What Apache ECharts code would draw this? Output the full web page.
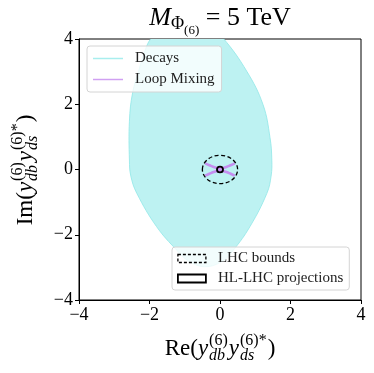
<!DOCTYPE html>
<html lang="en">
<head>
  <meta charset="UTF-8">
  <title>M_Phi = 5 TeV</title>
  <style>
    html, body { margin: 0; padding: 0; background: #fff; }
    #chart { width: 374px; height: 373px; }
  </style>
</head>
<body>
  <div id="chart"></div>
  <script src="https://cdn.jsdelivr.net/npm/echarts@6/dist/echarts.min.js"></script>
  <script>
    // 数据
    // Decays 区域边界点 [Re, Im]
    const decaysBoundary = [
      [-0.93, 4.50], [-0.30, 4.36], [0.085, 4.03], [0.76, 3.01], [1.22, 1.99],
      [1.42, 0.97], [1.47, 0.29], [1.45, -0.20], [1.33, -0.73], [0.85, -1.75],
      [0.38, -2.47], [0.05, -2.82], [-0.43, -2.98], [-0.90, -2.80], [-1.23, -2.47],
      [-1.80, -1.75], [-2.36, -0.73], [-2.53, -0.20], [-2.57, 0.29], [-2.57, 1.48],
      [-2.48, 2.35], [-2.30, 3.05], [-2.08, 3.78], [-1.94, 4.03], [-1.60, 4.32]
    ];
    // Loop Mixing 上下两条曲线
    const loopUpper = [[-0.42, 0.19], [-0.30, 0.13], [-0.18, 0.075], [-0.08, 0.045], [0, 0.035],
                       [0.08, 0.045], [0.18, 0.075], [0.30, 0.13], [0.42, 0.19]];
    const loopLower = [[-0.42, -0.19], [-0.30, -0.13], [-0.18, -0.075], [-0.08, -0.045], [0, -0.035],
                       [0.08, -0.045], [0.18, -0.075], [0.30, -0.13], [0.42, -0.19]];
    // 椭圆: [中心Re, 中心Im, 半轴Re, 半轴Im]
    const lhcBounds = [[0, 0, 0.50, 0.435]];
    const hlProjections = [[0, 0, 0.085, 0.09]];
    const axisMin = -4, axisMax = 4, tickStep = 2;

    const SERIF = '"Liberation Serif", "DejaVu Serif", serif';
    const measureCtx = document.createElement('canvas').getContext('2d');
    function textWidth(str, size, italic) {
      measureCtx.font = (italic ? 'italic ' : '') + size + 'px ' + SERIF;
      return measureCtx.measureText(str).width;
    }
    function txt(s, x, dy, size, italic) {
      return {
        type: 'text', x: x, y: dy,
        style: {
          text: s, fontSize: size, fontFamily: SERIF, fontStyle: italic ? 'italic' : 'normal',
          fill: '#000', align: 'left', verticalAlign: 'bottom'
        }
      };
    }
    // 公式: parts = [{t, it, s, dy, gap}] 或 {stack: [...]}, 以基线为 y=0
    function formula(parts, cx, cy, rotation) {
      let x = 0;
      const children = [];
      parts.forEach(function (p) {
        const items = p.stack || [p];
        let w = 0;
        x += p.gap || 0;
        items.forEach(function (q) {
          children.push(txt(q.t, x, (q.dy || 0) + q.s * 0.22, q.s, q.it));
          w = Math.max(w, textWidth(q.t, q.s, q.it));
        });
        x += w;
      });
      children.forEach(function (c) { c.x -= x / 2; });
      return { type: 'group', x: cx, y: cy, rotation: rotation || 0, children: children };
    }

    const M = 23, S = 16;
    function reimParts(head) {
      return [
        { t: head, s: M },
        { t: 'y', it: true, s: M },
        { gap: 1, stack: [{ t: '(6)', s: S, dy: -10 }, { t: 'db', it: true, s: S, dy: 5 }] },
        { gap: 1, t: 'y', it: true, s: M },
        { gap: 1, stack: [{ t: '(6)*', s: S, dy: -10 }, { t: 'ds', it: true, s: S, dy: 5 }] },
        { gap: 1, t: ')', s: M }
      ];
    }
    const titleParts = [
      { t: 'M', it: true, s: 26 },
      { t: 'Φ', s: 18, dy: 4 },
      { t: '(6)', s: 13, dy: 9 },
      { t: ' = 5 TeV', s: 26 }
    ];

    function minusFmt(v) { return v < 0 ? '\u2212' + (-v) : String(v); }

    function ellipseItem(dash, width) {
      return function (params, api) {
        const c = api.coord([api.value(0), api.value(1)]);
        const r = api.size([api.value(2), api.value(3)]);
        return {
          type: 'ellipse',
          shape: { cx: c[0], cy: c[1], rx: r[0], ry: r[1] },
          style: { fill: 'none', stroke: '#000', lineWidth: width, lineDash: dash }
        };
      };
    }

    const axisCommon = {
      type: 'value', min: axisMin, max: axisMax, interval: tickStep,
      splitLine: { show: false },
      axisLine: { onZero: false, lineStyle: { color: '#000', width: 1 } },
      axisTick: { inside: false, length: 4, lineStyle: { color: '#000' } },
      axisLabel: { color: '#000', fontFamily: SERIF, fontSize: 18, margin: 6, formatter: minusFmt }
    };

    const chart = echarts.init(document.getElementById('chart'));
    const option = {
      animation: false,
      grid: { left: 79, right: 13, top: 39, bottom: 73, show: true, borderColor: '#000', borderWidth: 1 },
      xAxis: axisCommon,
      yAxis: axisCommon,
      legend: [{
        orient: 'vertical', left: 87, top: 46, padding: [5, 7, 5, 6], itemGap: 6,
        icon: 'rect', itemWidth: 30, itemHeight: 1.5, selectedMode: false,
        backgroundColor: 'rgba(255,255,255,0.8)', borderColor: '#d4d4d4', borderWidth: 1, borderRadius: 3,
        textStyle: { fontFamily: SERIF, fontSize: 15, color: '#222', padding: [0, 0, 0, 7] },
        data: [
          { name: 'Decays', itemStyle: { color: '#a8eeee' } },
          { name: 'Loop Mixing', itemStyle: { color: '#d0a0f2' } }
        ]
      }, {
        orient: 'vertical', left: 172, top: 247, padding: [4, 6, 4, 5], itemGap: 5,
        icon: 'rect', itemWidth: 28, itemHeight: 8, selectedMode: false,
        backgroundColor: 'rgba(255,255,255,0.8)', borderColor: '#d4d4d4', borderWidth: 1, borderRadius: 3,
        textStyle: { fontFamily: SERIF, fontSize: 15, color: '#222', padding: [0, 0, 0, 7] },
        data: [
          { name: 'LHC bounds', itemStyle: { color: 'rgba(255,255,255,0)', borderColor: '#000', borderWidth: 1.3, borderType: [3, 2] } },
          { name: 'HL-LHC projections', itemStyle: { color: 'rgba(255,255,255,0)', borderColor: '#000', borderWidth: 1.8 } }
        ]
      }],
      series: [{
        name: 'Decays', type: 'custom', clip: true, z: 1,
        data: [[0, 0]],
        renderItem: function (params, api) {
          const pts = decaysBoundary.map(function (p) { return api.coord(p); });
          return {
            type: 'polygon', shape: { points: pts, smooth: 0.4 },
            style: { fill: '#bdf2f2', stroke: '#8fe7e7', lineWidth: 0.8 }
          };
        }
      }, {
        name: 'Loop Mixing', type: 'line', data: loopUpper, smooth: true, showSymbol: false, z: 2,
        color: '#c58ef0', lineStyle: { color: '#c58ef0', width: 2.6 }
      }, {
        name: 'Loop Mixing', type: 'line', data: loopLower, smooth: true, showSymbol: false, z: 2,
        color: '#c58ef0', lineStyle: { color: '#c58ef0', width: 2.6 }
      }, {
        name: 'LHC bounds', type: 'custom', z: 3, data: lhcBounds,
        renderItem: ellipseItem([4, 2.5], 1.3)
      }, {
        name: 'HL-LHC projections', type: 'custom', z: 3, data: hlProjections,
        renderItem: ellipseItem(null, 1.8)
      }],
      graphic: [
        formula(titleParts, 220, 25, 0),
        formula(reimParts('Re('), 220, 355, 0),
        formula(reimParts('Im('), 32, 170, Math.PI / 2)
      ]
    };
    chart.setOption(option);
  </script>
</body>
</html>
